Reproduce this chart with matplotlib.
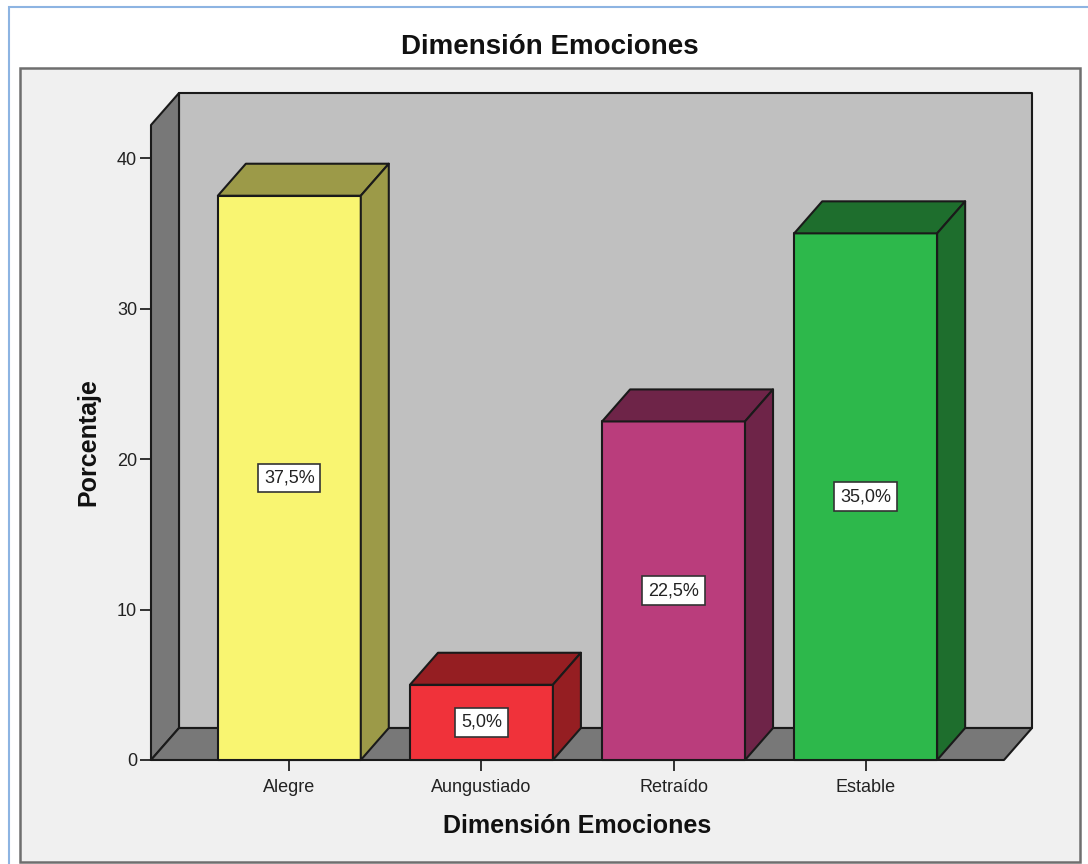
import matplotlib.pyplot as plt
from matplotlib.patches import Polygon, Rectangle

plt.rcParams["font.family"] = ["Liberation Sans", "DejaVu Sans"]

categorias = ["Alegre", "Aungustiado", "Retraído", "Estable"]
porcentajes = [37.5, 5.0, 22.5, 35.0]
color_frente = ["#F9F571", "#F0323A", "#BA3D7C", "#2DB84B"]
color_lado = ["#9C9A48", "#951E22", "#6E2448", "#1E6E2D"]
yticks = [0, 10, 20, 30, 40]

W, H = 1088, 864
fig = plt.figure(figsize=(W / 100, H / 100), dpi=100)
fig.patch.set_facecolor("white")

# marco azul exterior y area gris del grafico
fig.patches.append(Rectangle((9 / W, -0.05), 1.2, 1 - 7 / H + 0.05, transform=fig.transFigure,
                             facecolor="white", edgecolor="#8DB4E2", lw=1.5, zorder=0))
fig.patches.append(Rectangle((20 / W, 1 - 862 / H), (1080 - 20) / W, (862 - 68) / H,
                             transform=fig.transFigure, facecolor="#F0F0F0",
                             edgecolor="#6E6E6E", lw=1.8, zorder=1))

ax = fig.add_axes([151 / W, 1 - 760 / H, (1004 - 151) / W, (760 - 125) / H])
ax.set_zorder(5)
x0, x1 = -0.72, 3.72
ytop = 42.2
ax.set_xlim(x0, x1)
ax.set_ylim(0, ytop)
ax.patch.set_visible(False)
for s in ax.spines.values():
    s.set_visible(False)

# profundidad del efecto 3D en unidades de datos
dx = 28 * (x1 - x0) / 853
dy = 32 * ytop / 635
ec = "#1A1A1A"
lw = 1.5


def poli(pts, fc, z):
    ax.add_patch(Polygon(pts, closed=True, facecolor=fc, edgecolor=ec, lw=lw,
                         joinstyle="round", clip_on=False, zorder=z))


# paredes y piso
poli([(x0 + dx, dy), (x1 + dx, dy), (x1 + dx, ytop + dy), (x0 + dx, ytop + dy)], "#C0C0C0", 2)
poli([(x0, 0), (x0 + dx, dy), (x0 + dx, ytop + dy), (x0, ytop)], "#787878", 3)
poli([(x0, 0), (x1, 0), (x1 + dx, dy), (x0 + dx, dy)], "#787878", 3)

ancho = 0.744
for i, v in enumerate(porcentajes):
    a, b = i - ancho / 2, i + ancho / 2
    poli([(a, 0), (b, 0), (b, v), (a, v)], color_frente[i], 5)
    poli([(a, v), (b, v), (b + dx, v + dy), (a + dx, v + dy)], color_lado[i], 5)
    poli([(b, 0), (b + dx, dy), (b + dx, v + dy), (b, v)], color_lado[i], 5)
    ax.text(i, v / 2, f"{v:.1f}%".replace(".", ","), ha="center", va="center",
            fontsize=13, color="#222222", zorder=6,
            bbox=dict(boxstyle="square,pad=0.32", facecolor="white",
                      edgecolor="#333333", lw=1.2))

ax.set_yticks(yticks)
ax.set_xticks(range(len(categorias)))
ax.set_xticklabels(categorias)
ax.tick_params(axis="y", length=8, width=1.3, labelsize=13, pad=2, colors="#222222")
ax.tick_params(axis="x", length=8, width=1.3, labelsize=13, pad=6, colors="#222222")
for t in ax.xaxis.get_major_ticks() + ax.yaxis.get_major_ticks():
    t.tick1line.set_zorder(4)

fig.text(550 / W, 1 - 47 / H, "Dimensión Emociones", ha="center", va="center",
         fontsize=20, fontweight="bold", color="#111111", zorder=6)
fig.text(577 / W, 1 - 826 / H, "Dimensión Emociones", ha="center", va="center",
         fontsize=18, fontweight="bold", color="#111111", zorder=6)
fig.text(88 / W, 1 - 442 / H, "Porcentaje", ha="center", va="center", rotation=90,
         fontsize=18, fontweight="bold", color="#111111", zorder=6)

fig.savefig("out.png", dpi=100)
